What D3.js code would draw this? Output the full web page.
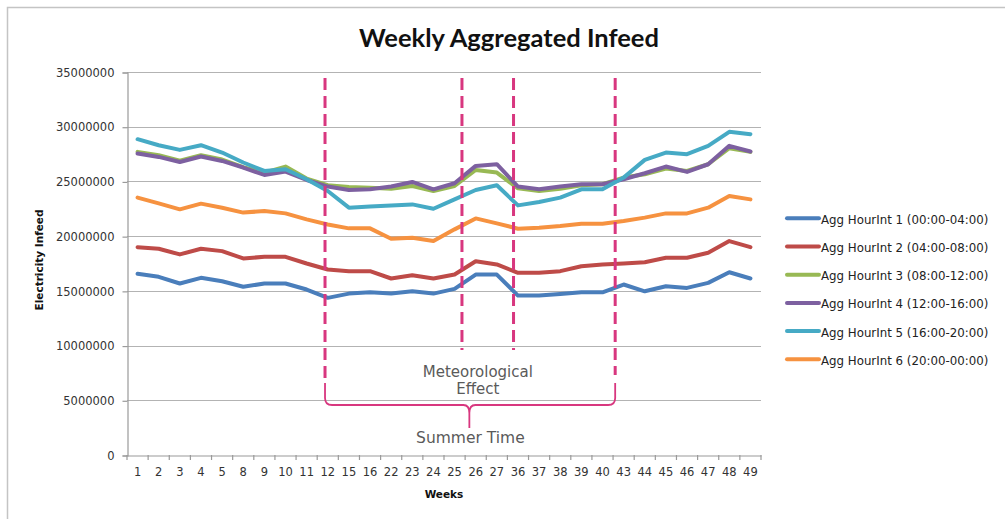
<!DOCTYPE html>
<html><head><meta charset="utf-8">
<script src="https://cdn.jsdelivr.net/npm/d3@7"></script>
<style>
html,body{margin:0;padding:0;background:#fff;}
svg{display:block;}
</style></head>
<body>
<svg id="chart" width="1005" height="519"></svg>
<script>
const weeks = [1,2,3,4,5,8,9,10,11,12,15,16,22,23,24,25,26,27,36,37,38,39,40,43,44,45,46,47,48,49];
const seriesNames = ["Agg HourInt 1 (00:00-04:00)","Agg HourInt 2 (04:00-08:00)","Agg HourInt 3 (08:00-12:00)","Agg HourInt 4 (12:00-16:00)","Agg HourInt 5 (16:00-20:00)","Agg HourInt 6 (20:00-00:00)"];
const seriesColors = ["#4a7ebb","#be4b48","#98b954","#7d60a0","#46aac5","#f69240"];
const h1 = [16.56,16.28,15.67,16.19,15.88,15.37,15.67,15.67,15.12,14.36,14.75,14.87,14.75,14.96,14.75,15.18,16.49,16.49,14.57,14.57,14.72,14.87,14.87,15.58,14.96,15.42,15.27,15.73,16.70,16.13];
const h2 = [18.99,18.85,18.33,18.85,18.63,17.96,18.11,18.11,17.50,16.95,16.80,16.80,16.13,16.43,16.13,16.49,17.71,17.41,16.65,16.65,16.80,17.25,17.41,17.50,17.62,18.02,18.02,18.48,19.55,18.99];
const h3 = [27.70,27.40,26.90,27.40,27.00,26.30,25.80,26.36,25.26,24.65,24.49,24.43,24.34,24.58,24.13,24.58,26.05,25.81,24.37,24.13,24.34,24.65,24.74,25.35,25.66,26.18,25.96,26.57,28.04,27.70];
const h4 = [27.55,27.24,26.78,27.28,26.87,26.27,25.59,25.90,25.13,24.53,24.22,24.28,24.53,24.95,24.28,24.83,26.42,26.57,24.53,24.28,24.53,24.74,24.74,25.20,25.75,26.36,25.87,26.57,28.25,27.74];
const h5 = [28.86,28.31,27.88,28.31,27.64,26.73,25.96,26.11,25.20,24.13,22.60,22.70,22.80,22.90,22.50,23.36,24.22,24.65,22.81,23.12,23.52,24.28,24.28,25.35,26.97,27.64,27.49,28.25,29.53,29.32];
const h6 = [23.52,23.00,22.45,22.97,22.60,22.15,22.30,22.08,21.53,21.07,20.71,20.71,19.76,19.85,19.55,20.62,21.62,21.17,20.68,20.77,20.92,21.14,21.14,21.38,21.69,22.08,22.08,22.60,23.67,23.36];
const yTicks = [0,5000000,10000000,15000000,20000000,25000000,30000000,35000000];
// annotation positions, in category-index units
const dashedAt = [8.87, 15.35, 17.79, 22.6];
const braceFrom = 8.87, braceTo = 22.6, braceMid = 15.7;

const seriesValues = [h1,h2,h3,h4,h5,h6].map(a => a.map(v => Math.round(v*1e6)));

const svg = d3.select("#chart");
const W = 1005, H = 519;
const pL = 127, pR = 761, pT = 72, pB = 455;

// frame
svg.append("path").attr("d", `M7.5,${H} V7.5 H${W}`).attr("fill","none").attr("stroke","#c4c4c4").attr("stroke-width",1.5);

const x = d3.scaleBand().domain(weeks).range([pL, pR]).paddingInner(0).paddingOuter(0);
const xi = d3.scaleLinear().domain([-0.5, weeks.length-0.5]).range([pL, pR]);
const y = d3.scaleLinear().domain([0, 35000000]).range([pB, pT]);

// gridlines
svg.append("g").selectAll("line").data(yTicks.filter(t=>t>0)).join("line")
  .attr("x1", pL).attr("x2", pR)
  .attr("y1", d=>Math.round(y(d))+0.5).attr("y2", d=>Math.round(y(d))+0.5)
  .attr("stroke","#b3b3b3").attr("stroke-width",1.2);

// y axis
const yAxis = d3.axisLeft(y).tickValues(yTicks).tickFormat(d3.format("d")).tickSize(5).tickPadding(8);
const gy = svg.append("g").attr("transform",`translate(${pL+0.5},0.5)`).call(yAxis);
gy.select(".domain").attr("stroke","#9a9a9a").attr("stroke-width",1.2);
gy.selectAll(".tick line").attr("stroke","#9a9a9a").attr("stroke-width",1.2);
gy.selectAll("text").attr("font-family","'DejaVu Sans', Verdana, sans-serif").attr("font-size","11.5px").attr("fill","#333");

// x axis
const xAxis = d3.axisBottom(x).tickSize(0).tickPadding(12);
const gx = svg.append("g").attr("transform",`translate(0,${pB+0.5})`).call(xAxis);
gx.select(".domain").attr("stroke","#9a9a9a").attr("stroke-width",1.2);
gx.selectAll("text").attr("font-family","'DejaVu Sans', Verdana, sans-serif").attr("font-size","11.5px").attr("fill","#333");
// x tick marks at category boundaries
svg.append("g").selectAll("line").data(d3.range(weeks.length+1)).join("line")
  .attr("x1", d=>xi(d-0.5)).attr("x2", d=>xi(d-0.5))
  .attr("y1", pB).attr("y2", pB+5)
  .attr("stroke","#9a9a9a").attr("stroke-width",1.2);

// lines
const line = d3.line().x((d,i)=>x(weeks[i])+x.bandwidth()/2).y(d=>y(d));
svg.append("g").selectAll("path").data(seriesValues).join("path")
  .attr("d", d=>line(d)).attr("fill","none")
  .attr("stroke",(d,i)=>seriesColors[i]).attr("stroke-width",4)
  .attr("stroke-linejoin","round").attr("stroke-linecap","round");

// annotations
const pink = "#d8377f";
const dashEnds = [378, 350, 350, 375];
svg.append("g").selectAll("line").data(dashedAt).join("line")
  .attr("x1", d=>xi(d)).attr("x2", d=>xi(d))
  .attr("y1", 78).attr("y2", (d,i)=>dashEnds[i])
  .attr("stroke", pink).attr("stroke-width",3).attr("stroke-dasharray","12,6");

const bx0 = xi(braceFrom), bx1 = xi(braceTo), bm = xi(braceMid);
const by = 405;
svg.append("path")
  .attr("d", `M${bx0},383 V${by-7} Q${bx0},${by} ${bx0+7},${by} H${bm-6} Q${bm},${by} ${bm},${by+8} V428 M${bm},${by+8} Q${bm},${by} ${bm+6},${by} H${bx1-7} Q${bx1},${by} ${bx1},${by-7} V383`)
  .attr("fill","none").attr("stroke",pink).attr("stroke-width",1.8);

const annFont = "'DejaVu Sans', Verdana, sans-serif";
svg.append("text").attr("x", xi(16.1)).attr("y", 377).attr("text-anchor","middle")
  .attr("font-family",annFont).attr("font-size","15px").attr("fill","#5a5a5a").text("Meteorological");
svg.append("text").attr("x", xi(16.1)).attr("y", 394).attr("text-anchor","middle")
  .attr("font-family",annFont).attr("font-size","15px").attr("fill","#5a5a5a").text("Effect");
svg.append("text").attr("x", xi(15.75)).attr("y", 443).attr("text-anchor","middle")
  .attr("font-family",annFont).attr("font-size","15.5px").attr("fill","#5a5a5a").text("Summer Time");

// title
svg.append("text").attr("x", 509).attr("y", 47).attr("text-anchor","middle")
  .attr("font-family","Lato, 'Open Sans', sans-serif").attr("font-weight","bold").attr("font-size","25.5px").attr("fill","#111")
  .text("Weekly Aggregated Infeed");

// axis titles
svg.append("text").attr("x", 444).attr("y", 498).attr("text-anchor","middle")
  .attr("font-family","'DejaVu Sans', Verdana, sans-serif").attr("font-weight","bold").attr("font-size","10.5px").attr("fill","#111")
  .text("Weeks");
svg.append("text").attr("transform","translate(43,260) rotate(-90)").attr("text-anchor","middle")
  .attr("font-family","'DejaVu Sans', Verdana, sans-serif").attr("font-weight","bold").attr("font-size","10.5px").attr("fill","#111")
  .text("Electricity Infeed");

// legend
const lg = svg.append("g").selectAll("g").data(seriesNames).join("g")
  .attr("transform",(d,i)=>`translate(787,${218.3 + i*28.2})`);
lg.append("line").attr("x1",0).attr("x2",32).attr("y1",0).attr("y2",0)
  .attr("stroke",(d,i)=>seriesColors[i]).attr("stroke-width",4).attr("stroke-linecap","round");
lg.append("text").attr("x",34).attr("y",1.5).attr("dominant-baseline","central")
  .attr("font-family","'DejaVu Sans', Verdana, sans-serif").attr("font-size","11.8px").attr("fill","#222")
  .text(d=>d);
</script>
</body></html>
